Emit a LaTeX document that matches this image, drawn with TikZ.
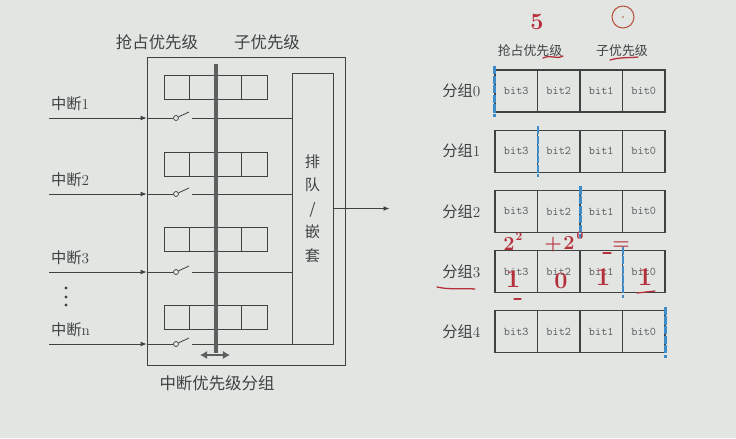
\documentclass[tikz,border=0pt]{standalone}
\usepackage{fontspec}
\newfontfamily\cjkfont{Noto Sans CJK SC}
\usetikzlibrary{positioning,arrows.meta}
\definecolor{bgpaper}{HTML}{E3E5E3}
\definecolor{ink}{HTML}{404242}
\definecolor{pen}{HTML}{B5303A}
\definecolor{marker}{HTML}{3E8DC8}
\tikzset{
  wire/.style={draw=ink, line width=0.7pt},
  arr/.style={wire, -{Latex[length=5pt,width=4pt]}},
  cell/.style={draw=ink, line width=0.7pt, minimum width=0.7725cm, minimum height=0.72cm, inner sep=0pt},
  bitcell/.style={draw=ink, line width=0.9pt, minimum width=1.275cm, minimum height=1.26cm, inner sep=0pt,
    text=ink!85, font=\ttfamily\fontsize{10}{12}\selectfont},
  lbl/.style={text=ink, inner sep=0pt, font=\fontsize{13}{15}\selectfont},
  title/.style={text=ink, inner sep=0pt, font=\cjkfont\fontsize{14}{16}\selectfont},
  pin/.style={circle, draw=ink, fill=bgpaper, line width=0.6pt, inner sep=0pt, minimum size=0.15cm},
  split/.style={draw=marker, line width=2.2pt, dash pattern=on 7pt off 1.2pt},
  hand/.style={text=pen, inner sep=0pt, font=\bfseries\fontsize{20}{22}\selectfont},
  scrawl/.style={draw=pen, line width=1.1pt, line cap=round}
}

\begin{document}
\begin{tikzpicture}[x=0.03cm, y=-0.03cm]
  \fill[bgpaper] (0,0) rectangle (736,438);

  % left part: priority grouping block
  \node[draw=ink, line width=0.7pt, minimum width=5.94cm, minimum height=9.24cm] (grp) at (246,211) {};
  \node[draw=ink, line width=0.7pt, minimum width=1.23cm, minimum height=8.13cm, align=center,
        text=ink, font=\cjkfont\fontsize{13}{20}\selectfont] (queue) at (312.5,208.5) {排\\队\\/\\嵌\\套};
  \node[title] (pre) at (157,42) {抢占优先级};
  \node[title] (sub) at (267,42) {子优先级};
  \node[title] (cap) at (217,383) {中断优先级分组};

  \foreach \r/\y in {1/87,2/164,3/239,4/317} {
    \foreach \c in {0,...,3}
      \node[cell] (reg\r-\c) at ({176.9+25.75*\c},\y) {};
  }

  \foreach \r/\y/\t in {1/118/1,2/194/2,3/272/3,4/344/n} {
    \coordinate (src\r) at (49,\y);
    \coordinate (gate\r) at (grp.west |- src\r);
    \node[pin] (sw\r) at (176,\y) {};
    \coordinate (tip\r) at (189,{\y-6});
    \coordinate (out\r) at (192,\y);
    \draw[arr] (src\r) -- (gate\r);
    \draw[wire] (gate\r) -- (sw\r);
    \draw[wire] (sw\r) -- (tip\r);
    \draw[wire] (out\r) -- (out\r -| queue.west);
    \node[lbl, anchor=west] (int\r) at (51,{\y-14}) {{\cjkfont 中断}\t};
  }
  \foreach \y in {288,297,305}
    \fill[ink] (66,\y) circle (1.6);

  \coordinate (bartop) at (216,64);
  \coordinate (barbot) at (216,353);
  \draw[line width=2.6pt, draw=ink!85] (bartop) -- (barbot);
  \coordinate (shl) at (200,355);
  \coordinate (shr) at (230,355);
  \draw[line width=2.2pt, draw=ink!85, {Latex[length=6pt,width=7pt]}-{Latex[length=6pt,width=7pt]}] (shl) -- (shr);

  \coordinate[right=1.68cm of queue.east] (outp);
  \draw[arr] (queue.east) -- (outp);

  % right part: the five groups
  \node[lbl, font=\cjkfont\fontsize{11}{13}\selectfont] (pre2) at (530,51) {抢占优先级};
  \node[lbl, font=\cjkfont\fontsize{11}{13}\selectfont] (sub2) at (622,51) {子优先级};
  \foreach \g in {0,...,4} {
    \pgfmathsetmacro\yy{91+60.2*\g}
    \foreach \c/\b in {0/3,1/2,2/1,3/0}
      \node[bitcell] (g\g-\c) at ({516.25+42.5*\c},\yy) {bit\b};
    \node[lbl, left=0.42cm of g\g-0] (name\g) {{\cjkfont 分组}\g};
  }
  \foreach \n/\s in {g0-0/west,g1-0/east,g2-1/east,g3-2/east,g4-3/east}
    \draw[split] ([yshift=3pt]\n.north \s) -- ([yshift=-4pt]\n.south \s);

  % handwriting
  \node[hand] (five) at (537,22) {5};
  \node[circle, draw=pen!60!brown, line width=0.9pt, minimum size=0.66cm, inner sep=0pt] (ring) at (623,17) {};
  \fill[pen!60!brown] (ring.center) circle (0.8);
  \draw[scrawl] (543,58) .. controls (552,54) and (555,60) .. (563,56);
  \draw[scrawl] (610,60) .. controls (620,57) and (630,58) .. (638,57);
  \draw[scrawl] (437,287) .. controls (450,290) and (462,288) .. (475,289);
  \node[hand, font=\bfseries\fontsize{17}{19}\selectfont] (p2) at (509,244) {2};
  \node[hand, font=\bfseries\fontsize{10}{12}\selectfont] (e2) at (519,237) {2};
  \node[hand, font=\bfseries\fontsize{17}{19}\selectfont] (plus) at (553,245) {+};
  \node[hand, font=\bfseries\fontsize{17}{19}\selectfont] (p0) at (569,243) {2};
  \node[hand, font=\bfseries\fontsize{10}{12}\selectfont] (e0) at (580,236) {0};
  \node[hand, font=\bfseries\fontsize{17}{19}\selectfont] (eq) at (621,246) {=};
  \node[hand, font=\bfseries\fontsize{22}{24}\selectfont] (d3) at (513,279) {1};
  \node[hand, font=\bfseries\fontsize{20}{22}\selectfont] (d2) at (561,281) {0};
  \node[hand, font=\bfseries\fontsize{22}{24}\selectfont] (d1) at (603,277) {1};
  \node[hand, font=\bfseries\fontsize{22}{24}\selectfont] (d0) at (645,277) {1};
  \draw[scrawl] (637,293) -- (655,291);
  \draw[scrawl] (514,299) -- (521,299);
  \draw[scrawl] (603,253) -- (611,253);
\end{tikzpicture}
\end{document}
